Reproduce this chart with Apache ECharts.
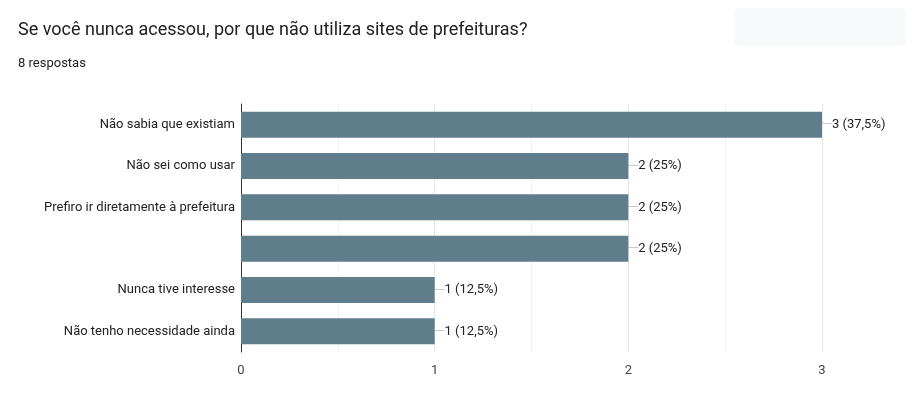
<!DOCTYPE html>
<html><head><meta charset="utf-8">
<script src="https://cdn.jsdelivr.net/npm/echarts@6/dist/echarts.min.js"></script>
<style>html,body{margin:0;padding:0;background:#fff}#chart{width:916px;height:409px}</style>
</head><body>
<div id="chart"></div>
<script>
var categories = ['Não sabia que existiam', 'Não sei como usar', 'Prefiro ir diretamente à prefeitura', '', 'Nunca tive interesse', 'Não tenho necessidade ainda'];
var counts = [3, 2, 2, 2, 1, 1];
var percents = ['37,5%', '25%', '25%', '25%', '12,5%', '12,5%'];
var xTicks = [0, 1, 2, 3];

var chart = echarts.init(document.getElementById('chart'));
chart.setOption({
  animation: false,
  textStyle: { fontFamily: 'Roboto, Arial, sans-serif' },
  graphic: [
    { type: 'text', left: 18, top: 21, style: { text: 'Se você nunca acessou, por que não utiliza sites de prefeituras?', font: '18px Roboto, Arial, sans-serif', fill: '#202124' } },
    { type: 'text', left: 18, top: 57, style: { text: '8 respostas', font: '13px Roboto, Arial, sans-serif', fill: '#202124' } },
    { type: 'rect', right: 10, top: 8, shape: { width: 172, height: 38, r: 6 }, style: { fill: '#f8f9fa' } }
  ],
  grid: { left: 241, right: 94, top: 104, bottom: 57 },
  xAxis: {
    type: 'value', min: 0, max: 3, interval: 1,
    axisLine: { show: false }, axisTick: { show: false },
    axisLabel: { color: '#444', fontSize: 13, margin: 12 },
    splitLine: { lineStyle: { color: '#e6e6e6' } },
    minorTick: { show: false, splitNumber: 2 },
    minorSplitLine: { show: true, lineStyle: { color: '#f3f3f3' } }
  },
  yAxis: {
    type: 'category', data: categories, inverse: true,
    axisLine: { lineStyle: { color: '#333' } }, axisTick: { show: false },
    axisLabel: { color: '#222', fontSize: 13, margin: 6 }
  },
  series: [{
    type: 'bar', data: counts, barWidth: 26,
    itemStyle: { color: '#607d8b' },
    label: {
      show: true, position: 'right', distance: 0,
      formatter: function (p) { return '{l|──}' + counts[p.dataIndex] + ' (' + percents[p.dataIndex] + ')'; },
      color: '#222', fontSize: 13,
      rich: { l: { color: '#999', fontSize: 7 } }
    }
  }]
});
</script>
</body></html>
